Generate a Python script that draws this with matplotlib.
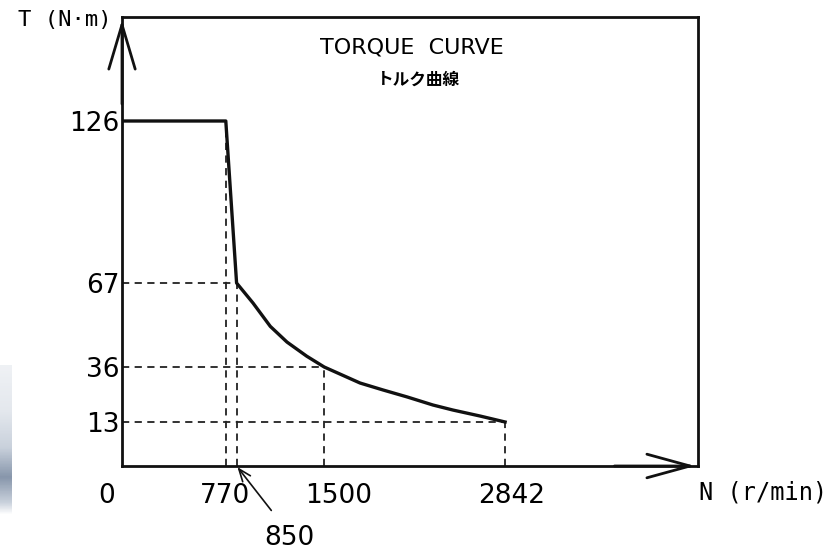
import matplotlib
matplotlib.use("Agg")
import matplotlib.pyplot as plt
import matplotlib.transforms as mtransforms
from matplotlib.colors import LinearSegmentedColormap
import numpy as np

# torque curve
speed = [0, 770, 850, 972, 1100, 1224, 1370, 1500, 1766, 1936, 2114, 2307, 2455, 2656, 2842]
torque = [126, 126, 67, 59.6, 51, 45.2, 40, 36, 29.3, 26.4, 23.5, 20.1, 18, 15.5, 13]

# reference lines (N, T) at the corners of the curve
ref_speed = [770, 850, 1500, 2842]
ref_torque_v = [126, 67, 36, 13]
ref_torque_h = [67, 36, 13]
ref_speed_h = [850, 1500, 2842]

x_ticks = [0, 770, 1500, 2842]
y_ticks = [13, 36, 67, 126]

# the hand-drawn scan has a slightly uneven torque axis
t_marks = [0, 13, 36, 67, 126, 164]
t_pos = [0, 44, 99, 183, 345, 449]


def fwd(v):
    return np.interp(v, t_marks, t_pos)


def inv(v):
    return np.interp(v, t_pos, t_marks)


num_font = ['DejaVu Sans']
mono = ['DejaVu Sans Mono']

fig = plt.figure(figsize=(8.37, 5.51), dpi=100)

# scan artifact at the lower left edge (grey-blue strip)
strip = fig.add_axes([0, 36 / 551, 12 / 837, 150 / 551])
grad = np.linspace(0, 1, 100)
shade = np.interp(grad, [0, 0.08, 0.25, 0.45, 0.7, 1], [0.0, 0.5, 0.85, 0.5, 0.25, 0.15])
blue_grey = LinearSegmentedColormap.from_list('bg', ['#ffffff', '#c9d1dc', '#6b7d96'])
strip.imshow(shade[:, None], aspect='auto', cmap=blue_grey, vmin=0, vmax=1,
             origin='lower')
strip.axis('off')

ax = fig.add_axes([122 / 837, 85 / 551, 576 / 837, 449 / 551])
ax.set_yscale('function', functions=(fwd, inv))
ax.set_xlim(0, 4273)
ax.set_ylim(0, 164)

for s in ax.spines.values():
    s.set_linewidth(2.0)
    s.set_color('#111111')

# dashed guides
for n, t in zip(ref_speed, ref_torque_v):
    ax.plot([n, n], [0, t], ls=(0, (4, 3)), color='#222222', lw=1.3)
for n, t in zip(ref_speed_h, ref_torque_h):
    ax.plot([0, n], [t, t], ls=(0, (4, 3)), color='#222222', lw=1.3)

ax.plot(speed, torque, color='#111111', lw=2.4, solid_joinstyle='round')

ax.set_xticks(x_ticks)
ax.set_xticklabels([str(v) for v in x_ticks], family=num_font, fontsize=19)
ax.set_yticks(y_ticks)
ax.set_yticklabels([str(v) for v in y_ticks], family=num_font, fontsize=19)
ax.minorticks_off()
ax.tick_params(length=0, pad=2)
ax.tick_params(axis='x', pad=12)

# nudge the x labels to where the scan has them
shifts = [-15, -1, 14, 7]
for lab, dx in zip(ax.get_xticklabels(), shifts):
    lab.set_transform(lab.get_transform() +
                      mtransforms.ScaledTranslation(dx / 100, 0, fig.dpi_scale_trans))

# axis arrows
ax.annotate('', xy=(0, 1), xytext=(0, 0.8), xycoords='axes fraction',
            arrowprops=dict(arrowstyle='->,head_length=3.2,head_width=0.95',
                            mutation_scale=10, lw=2, color='#111111'))
ax.annotate('', xy=(1, 0), xytext=(0.85, 0), xycoords='axes fraction',
            arrowprops=dict(arrowstyle='->,head_length=3.1,head_width=0.85',
                            mutation_scale=10, lw=2, color='#111111'))

# pointer to 850
ax.annotate('', xy=(850, 0), xytext=(25, -32), textcoords='offset points',
            arrowprops=dict(arrowstyle='->,head_length=0.9,head_width=0.35',
                            mutation_scale=10, lw=1.2, color='#111111',
                            shrinkA=0, shrinkB=1))
ax.annotate('850', xy=(850, 0), xytext=(38, -52), textcoords='offset points',
            ha='center', va='center', fontsize=19, family=num_font)

ax.text(-0.018, 0.993, 'T (N·m)', transform=ax.transAxes, ha='right', va='center',
        fontsize=16, family=mono)
ax.annotate('N (r/min)', xy=(1, 0), xycoords='axes fraction', xytext=(1, -19),
            textcoords='offset points', ha='left', va='center', fontsize=17,
            family=mono)

ax.text(0.503, 0.933, 'TORQUE  CURVE', transform=ax.transAxes, ha='center',
        va='center', fontsize=16)
ax.text(0.514, 0.86, 'トルク曲線', transform=ax.transAxes, ha='center', va='center',
        fontsize=12, family=['Noto Sans CJK JP', 'DejaVu Sans'], fontweight='bold')

fig.savefig('out.png', dpi=100)
